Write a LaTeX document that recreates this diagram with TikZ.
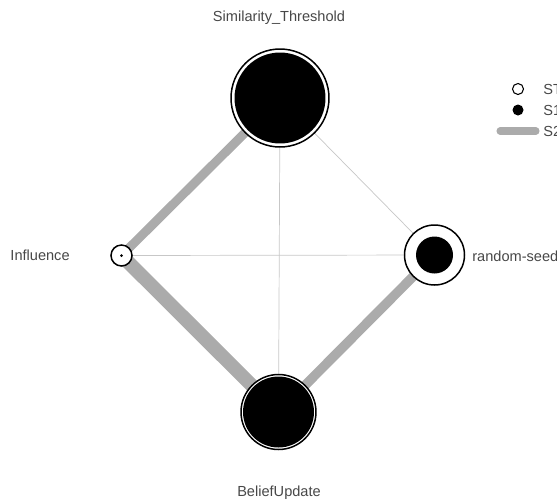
\documentclass[tikz,border=0pt]{standalone}
\usepackage{fontspec}
\setmainfont{Liberation Sans}
\usetikzlibrary{positioning}

\begin{document}
\begin{tikzpicture}[x=0.02cm, y=-0.02cm, font=\fontsize{8.3}{10}\selectfont,
    ring/.style={circle, draw=black, line width=0.85pt, fill=white, inner sep=0pt},
    dot/.style={circle, fill=black, inner sep=0pt},
    link/.style={draw=black!33, line cap=butt},
    thin link/.style={draw=black!22, line width=0.4pt},
    label text/.style={text=black!72, inner sep=0pt}]
  \useasboundingbox (0, 0) rectangle (557, 501);

  % parameters
  \coordinate (sim) at (280, 98);
  \coordinate (inf) at (121.5, 255.5);
  \coordinate (rnd) at (434.5, 255);
  \coordinate (bel) at (278.5, 412);

  % second order links
  \draw[thin link] (sim) -- (bel);
  \draw[thin link] (inf) -- (rnd);
  \draw[thin link] (sim) -- (rnd);
  \draw[link, line width=5.1pt] (sim) -- (inf);
  \draw[link, line width=7.9pt] (inf) -- (bel);
  \draw[link, line width=5.4pt] (bel) -- (rnd);

  % total and first order
  \node[ring, minimum size=1.96cm] (simT) at (sim) {};
  \node[dot, minimum size=1.82cm] (simF) at (sim) {};
  \node[ring, minimum size=0.42cm] (infT) at (inf) {};
  \node[dot, minimum size=0.06cm] (infF) at (inf) {};
  \node[ring, minimum size=1.2cm] (rndT) at (rnd) {};
  \node[dot, minimum size=0.74cm] (rndF) at (rnd) {};
  \node[ring, minimum size=1.5cm] (belT) at (bel) {};
  \node[dot, minimum size=1.42cm] (belF) at (bel) {};

  \node[label text] (simL) at (279, 18) {Similarity\_Threshold};
  \node[label text] (belL) at (279, 493) {BeliefUpdate};
  \node[label text, anchor=east] (infL) at (70, 255) {Influence};
  \node[label text, anchor=west] (rndL) at (472, 256) {random-seed};

  % legend
  \node[ring, line width=0.6pt, minimum size=0.22cm] (legT) at (518, 89) {};
  \node[dot, minimum size=0.22cm] (legF) at (518, 110) {};
  \coordinate (legA) at (500, 131);
  \coordinate (legB) at (536, 131);
  \draw[link, line width=4pt, line cap=round] (legA) -- (legB);
  \node[label text, anchor=west] (legTL) at (543, 89) {ST};
  \node[label text, anchor=west] (legFL) at (543, 110) {S1};
  \node[label text, anchor=west] (legSL) at (543, 131) {S2};
\end{tikzpicture}
\end{document}
